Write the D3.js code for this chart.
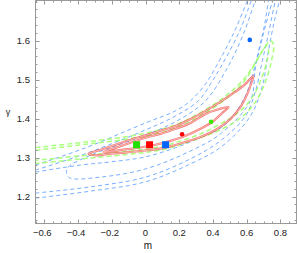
<!DOCTYPE html>
<html lang="en">
	<head>
		<meta charset="utf-8">
		<script type="text/javascript" src="https://cdn.jsdelivr.net/npm/d3@7/dist/d3.min.js"></script>
		<style type="text/css">
			body { margin: 0; background: white; }
			text { font-family: "Liberation Sans", Arial, sans-serif; }
		</style>
	</head>
	<body>
		<script type="text/javascript">

			//Width and height
			var w = 297;
			var h = 253;
			var plot = { left: 35.5, right: 296.5, top: 0.5, bottom: 223.5 };

			//Axis domains and ticks
			var xDomain = [-0.652, 0.895];
			var yDomain = [1.131, 1.703];
			var xTicks = [-0.6, -0.4, -0.2, 0, 0.2, 0.4, 0.6, 0.8];
			var yTicks = [1.2, 1.3, 1.4, 1.5, 1.6];

			//Solid red contours [m, gamma]
			var redOuter = [[-0.338,1.310],[-0.267,1.320],[-0.178,1.333],[-0.089,1.346],[0,1.357],[0.089,1.369],
				[0.178,1.381],[0.267,1.399],[0.356,1.420],[0.444,1.443],[0.533,1.469],[0.593,1.489],[0.640,1.510],
				[0.628,1.492],[0.604,1.464],[0.563,1.430],[0.504,1.399],[0.415,1.371],[0.326,1.353],[0.237,1.340],
				[0.148,1.329],[0.059,1.321],[-0.030,1.317],[-0.119,1.313],[-0.207,1.310],[-0.296,1.306]];
			var redInner = [[-0.249,1.315],[-0.178,1.325],[-0.089,1.338],[0,1.351],[0.089,1.361],[0.178,1.374],
				[0.267,1.389],[0.356,1.412],[0.433,1.424],[0.492,1.430],[0.456,1.415],[0.397,1.392],[0.326,1.374],
				[0.237,1.356],[0.148,1.343],[0.059,1.333],[-0.030,1.326],[-0.119,1.321],[-0.207,1.316]];

			//Green dashed contours
			var greenOuter = [[-0.652,1.326],[-0.356,1.340],[-0.030,1.360],[0.178,1.384],[0.356,1.423],[0.492,1.464],
				[0.593,1.507],[0.658,1.549],[0.705,1.582],[0.741,1.600],[0.759,1.590],[0.747,1.549],[0.717,1.502],
				[0.670,1.456],[0.610,1.420],[0.539,1.394],[0.456,1.374],[0.356,1.356],[0.237,1.338],[0.119,1.322],
				[-0.030,1.312],[-0.326,1.299],[-0.652,1.285]];
			var greenInner = [[-0.652,1.319],[-0.356,1.334],[-0.030,1.353],[0.178,1.376],[0.356,1.415],[0.492,1.456],
				[0.587,1.497],[0.646,1.538],[0.687,1.569],[0.717,1.587],[0.729,1.579],[0.717,1.543],[0.687,1.502],
				[0.646,1.464],[0.587,1.430],[0.516,1.405],[0.433,1.384],[0.338,1.363],[0.225,1.345],[0.107,1.330],
				[-0.030,1.320],[-0.326,1.307],[-0.652,1.293]];

			//Blue dashed contours
			var blue1 = [[-0.652,1.281],[-0.356,1.325],[0,1.389],[0.178,1.420],[0.267,1.446],[0.356,1.489],
				[0.415,1.531],[0.521,1.618],[0.604,1.703],[0.628,1.729]];
			var blue2 = [[-0.652,1.268],[-0.356,1.310],[0,1.371],[0.178,1.407],[0.314,1.446],[0.397,1.497],
				[0.444,1.531],[0.551,1.618],[0.628,1.703],[0.652,1.729]];
			var blue3 = [[0.670,1.729],[0.581,1.618],[0.486,1.531],[0.356,1.446],[0.178,1.392],[0,1.358],
				[-0.178,1.330],[-0.338,1.304],[-0.462,1.274],[-0.468,1.261],[-0.450,1.248],[-0.267,1.250],
				[0,1.271],[0.267,1.317],[0.444,1.361],[0.622,1.446],[0.652,1.531],[0.699,1.618],[0.753,1.703],[0.770,1.729]];
			var blue4 = [[-0.652,1.263],[-0.385,1.281],[-0.207,1.289],[0,1.302],[0.207,1.330],[0.356,1.358],
				[0.456,1.379],[0.533,1.415],[0.593,1.459],[0.634,1.510],[0.670,1.574],[0.705,1.639],[0.729,1.703],[0.741,1.729]];
			var blue5 = [[-0.652,1.209],[-0.326,1.225],[0,1.250],[0.267,1.297],[0.444,1.343],[0.593,1.407],
				[0.652,1.471],[0.693,1.549],[0.729,1.618],[0.770,1.703],[0.788,1.729]];
			var blue6 = [[-0.652,1.196],[-0.326,1.214],[0,1.238],[0.267,1.284],[0.456,1.330],[0.622,1.407],
				[0.693,1.484],[0.729,1.574],[0.764,1.651],[0.794,1.703],[0.806,1.729]];

			//Best fit markers
			var squares = [ { m: -0.053, g: 1.333, c: "#22e000" },
							{ m: 0.024, g: 1.333, c: "#ff0000" },
							{ m: 0.119, g: 1.333, c: "#0066ff" } ];
			var dots = [ { m: 0.217, g: 1.360, c: "#ff0000" },
						 { m: 0.389, g: 1.392, c: "#33ee00" },
						 { m: 0.618, g: 1.602, c: "#0066ff" } ];

			var xScale = d3.scaleLinear().domain(xDomain).range([plot.left, plot.right]);
			var yScale = d3.scaleLinear().domain(yDomain).range([plot.bottom, plot.top]);

			var svg = d3.select("body")
						.append("svg")
						.attr("width", w)
						.attr("height", h);

			svg.append("clipPath")
			   .attr("id", "clip")
			   .append("rect")
			   .attr("x", plot.left)
			   .attr("y", plot.top)
			   .attr("width", plot.right - plot.left)
			   .attr("height", plot.bottom - plot.top);

			var line = d3.line()
						 .x(function(d) { return xScale(d[0]); })
						 .y(function(d) { return yScale(d[1]); })
						 .curve(d3.curveCatmullRom);
			var closedLine = d3.line()
						 .x(function(d) { return xScale(d[0]); })
						 .y(function(d) { return yScale(d[1]); })
						 .curve(d3.curveCatmullRomClosed);

			var g = svg.append("g").attr("clip-path", "url(#clip)");

			//Blue dashed
			g.selectAll("path.blue")
			 .data([blue1, blue2, blue3, blue4, blue5, blue6])
			 .enter()
			 .append("path")
			 .attr("class", "blue")
			 .attr("d", line)
			 .attr("fill", "none")
			 .attr("stroke", "#6aa6ff")
			 .attr("stroke-width", 0.9)
			 .attr("stroke-dasharray", "4,3");

			//Green dashed
			g.selectAll("path.green")
			 .data([greenOuter, greenInner])
			 .enter()
			 .append("path")
			 .attr("class", "green")
			 .attr("d", line)
			 .attr("fill", "none")
			 .attr("stroke", "#9cff6a")
			 .attr("stroke-width", 1.5)
			 .attr("stroke-opacity", 0.85)
			 .attr("stroke-dasharray", "5,3");

			//Red solid (drawn as a double line)
			var reds = [redOuter, redInner];
			g.selectAll("path.redwide")
			 .data(reds)
			 .enter()
			 .append("path")
			 .attr("d", closedLine)
			 .attr("fill", "none")
			 .attr("stroke", "#f03a3a")
			 .attr("stroke-width", 2.2)
			 .attr("stroke-opacity", 0.7);
			g.selectAll("path.redmid")
			 .data(reds)
			 .enter()
			 .append("path")
			 .attr("d", closedLine)
			 .attr("fill", "none")
			 .attr("stroke", "#ffd8d0")
			 .attr("stroke-width", 0.7);

			//Markers
			g.selectAll("rect.sq")
			 .data(squares)
			 .enter()
			 .append("rect")
			 .attr("x", function(d) { return xScale(d.m) - 3.5; })
			 .attr("y", function(d) { return yScale(d.g) - 3.5; })
			 .attr("width", 7)
			 .attr("height", 7)
			 .attr("fill", function(d) { return d.c; });
			g.selectAll("circle.dot")
			 .data(dots)
			 .enter()
			 .append("circle")
			 .attr("cx", function(d) { return xScale(d.m); })
			 .attr("cy", function(d) { return yScale(d.g); })
			 .attr("r", 2.3)
			 .attr("fill", function(d) { return d.c; });

			//Frame
			svg.append("rect")
			   .attr("x", plot.left)
			   .attr("y", plot.top)
			   .attr("width", plot.right - plot.left)
			   .attr("height", plot.bottom - plot.top)
			   .attr("fill", "none")
			   .attr("stroke", "#999")
			   .attr("stroke-width", 1);

			//Inner ticks on all sides
			var xMinor = d3.range(-0.65, 0.9001, 0.05);
			var yMinor = d3.range(1.14, 1.7001, 0.02);
			function addTicks(vals, len, horiz) {
				vals.forEach(function(v) {
					if (horiz) {
						var x = Math.round(xScale(v)) + 0.5;
						svg.append("line").attr("x1", x).attr("x2", x).attr("y1", plot.bottom).attr("y2", plot.bottom - len).attr("stroke", "#999");
						svg.append("line").attr("x1", x).attr("x2", x).attr("y1", plot.top).attr("y2", plot.top + len).attr("stroke", "#999");
					} else {
						var y = Math.round(yScale(v)) + 0.5;
						svg.append("line").attr("y1", y).attr("y2", y).attr("x1", plot.left).attr("x2", plot.left + len).attr("stroke", "#999");
						svg.append("line").attr("y1", y).attr("y2", y).attr("x1", plot.right).attr("x2", plot.right - len).attr("stroke", "#999");
					}
				});
			}
			addTicks(xMinor, 2, true);
			addTicks(yMinor, 2, false);
			addTicks(xTicks, 4, true);
			addTicks(yTicks, 4, false);

			//Tick labels
			var fmt = function(v) { return v === 0 ? "0" : d3.format(".1f")(v).replace("-", "\u2212"); };
			svg.selectAll("text.xt")
			   .data(xTicks)
			   .enter()
			   .append("text")
			   .attr("x", function(d) { return xScale(d) - (d < 0 ? 2 : 0); })
			   .attr("y", 236)
			   .attr("text-anchor", "middle")
			   .attr("font-size", "9.5px")
			   .attr("fill", "#222")
			   .text(fmt);
			svg.selectAll("text.yt")
			   .data(yTicks)
			   .enter()
			   .append("text")
			   .attr("x", 30)
			   .attr("y", function(d) { return yScale(d) + 3.5; })
			   .attr("text-anchor", "end")
			   .attr("font-size", "9.5px")
			   .attr("fill", "#222")
			   .text(fmt);

			//Axis titles
			svg.append("text")
			   .attr("x", 148)
			   .attr("y", 249)
			   .attr("text-anchor", "middle")
			   .attr("font-size", "10px")
			   .attr("fill", "#222")
			   .text("m");
			svg.append("text")
			   .attr("x", 8)
			   .attr("y", 115)
			   .attr("text-anchor", "middle")
			   .attr("font-size", "9px")
			   .attr("fill", "#222")
			   .text("\u03b3");

		</script>
	</body>
</html>
